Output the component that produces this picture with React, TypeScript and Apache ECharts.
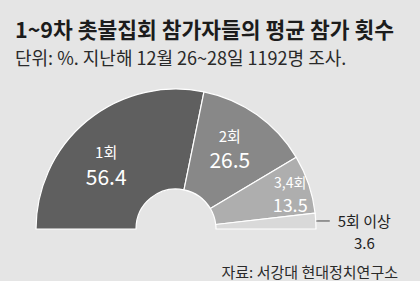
import React, { useEffect, useRef } from "react";
import * as echarts from "echarts";

const categories = ["1회", "2회", "3,4회", "5회 이상"];
const values = [56.4, 26.5, 13.5, 3.6];
const colors = ["#5f5f5f", "#888888", "#aeaeae", "#d9d9d9"];
const titleText = "1~9차 촛불집회 참가자들의 평균 참가 횟수";
const subtitleText = "단위: %. 지난해 12월 26~28일 1192명 조사.";
const sourceText = "자료: 서강대 현대정치연구소";

const FONT = '"Noto Sans CJK KR", "Noto Sans", sans-serif';

export default function App() {
  const ref = useRef<HTMLDivElement>(null);
  useEffect(() => {
    if (!ref.current) return;
    const chart = echarts.init(ref.current, undefined, { renderer: "svg" });
    const labelShift = [
      { dx: -11, dy: 7 },
      { dx: 0, dy: -6 },
      { dx: 26, dy: -6 },
    ];
    const data = categories.map((name, i) => {
      const last = i === categories.length - 1;
      const lhN = i === 2 ? 22 : 24;
      const lhV = i === 2 ? 23 : 24;
      return {
        name,
        value: values[i],
        itemStyle: { color: colors[i] },
        label: last
          ? {
              show: true,
              position: "outside",
              formatter: "{n|{b}}\n{v|{c}}",
              padding: [22, 0, 0, 0],
              distanceToLabelLine: 8,
              rich: {
                n: { fontSize: 15, color: "#222", fontFamily: FONT, lineHeight: 22 },
                v: { fontSize: 15, color: "#222", fontFamily: FONT, lineHeight: 22, align: "center" },
              },
            }
          : {
              show: true,
              position: "inside",
              formatter: "{n|{b}}\n{v|{c}}",
              rich: {
                n: { fontSize: i === 2 ? 14 : 15, color: "#fff", fontFamily: FONT, lineHeight: lhN },
                v: { fontSize: i === 2 ? 18 : 21, color: "#fff", fontFamily: FONT, lineHeight: lhV },
              },
            },
        labelLine: last
          ? { show: true, length: 2, length2: 12, lineStyle: { color: "#444", width: 1 } }
          : { show: false },
      };
    });
    chart.setOption({
      animation: false,
      backgroundColor: "#e5e5e5",
      title: [
        {
          text: titleText,
          left: 10,
          top: 13,
          textStyle: { fontSize: 21.5, fontWeight: "bold", color: "#1c1c1c", fontFamily: FONT },
        },
        {
          text: subtitleText,
          left: 10,
          top: 43,
          textStyle: { fontSize: 18, fontWeight: "normal", color: "#2a2a2a", fontFamily: FONT },
        },
        {
          text: sourceText,
          right: 17,
          top: 259,
          textStyle: { fontSize: 15, fontWeight: "normal", color: "#2a2a2a", fontFamily: FONT },
        },
      ],
      series: [
        {
          type: "pie",
          center: [176, 229],
          radius: [40, 140],
          startAngle: 180,
          endAngle: 0,
          clockwise: true,
          avoidLabelOverlap: false,
          itemStyle: { borderColor: "#ffffff", borderWidth: 1.2 },
          emphasis: { disabled: true },
          labelLayout: (params: any) => {
            const s = labelShift[params.dataIndex];
            return s ? { dx: s.dx, dy: s.dy } : {};
          },
          data,
        },
      ],
    });
    return () => chart.dispose();
  }, []);
  return <div ref={ref} style={{ position: "fixed", left: 0, top: 0, width: 420, height: 281 }} />;
}
